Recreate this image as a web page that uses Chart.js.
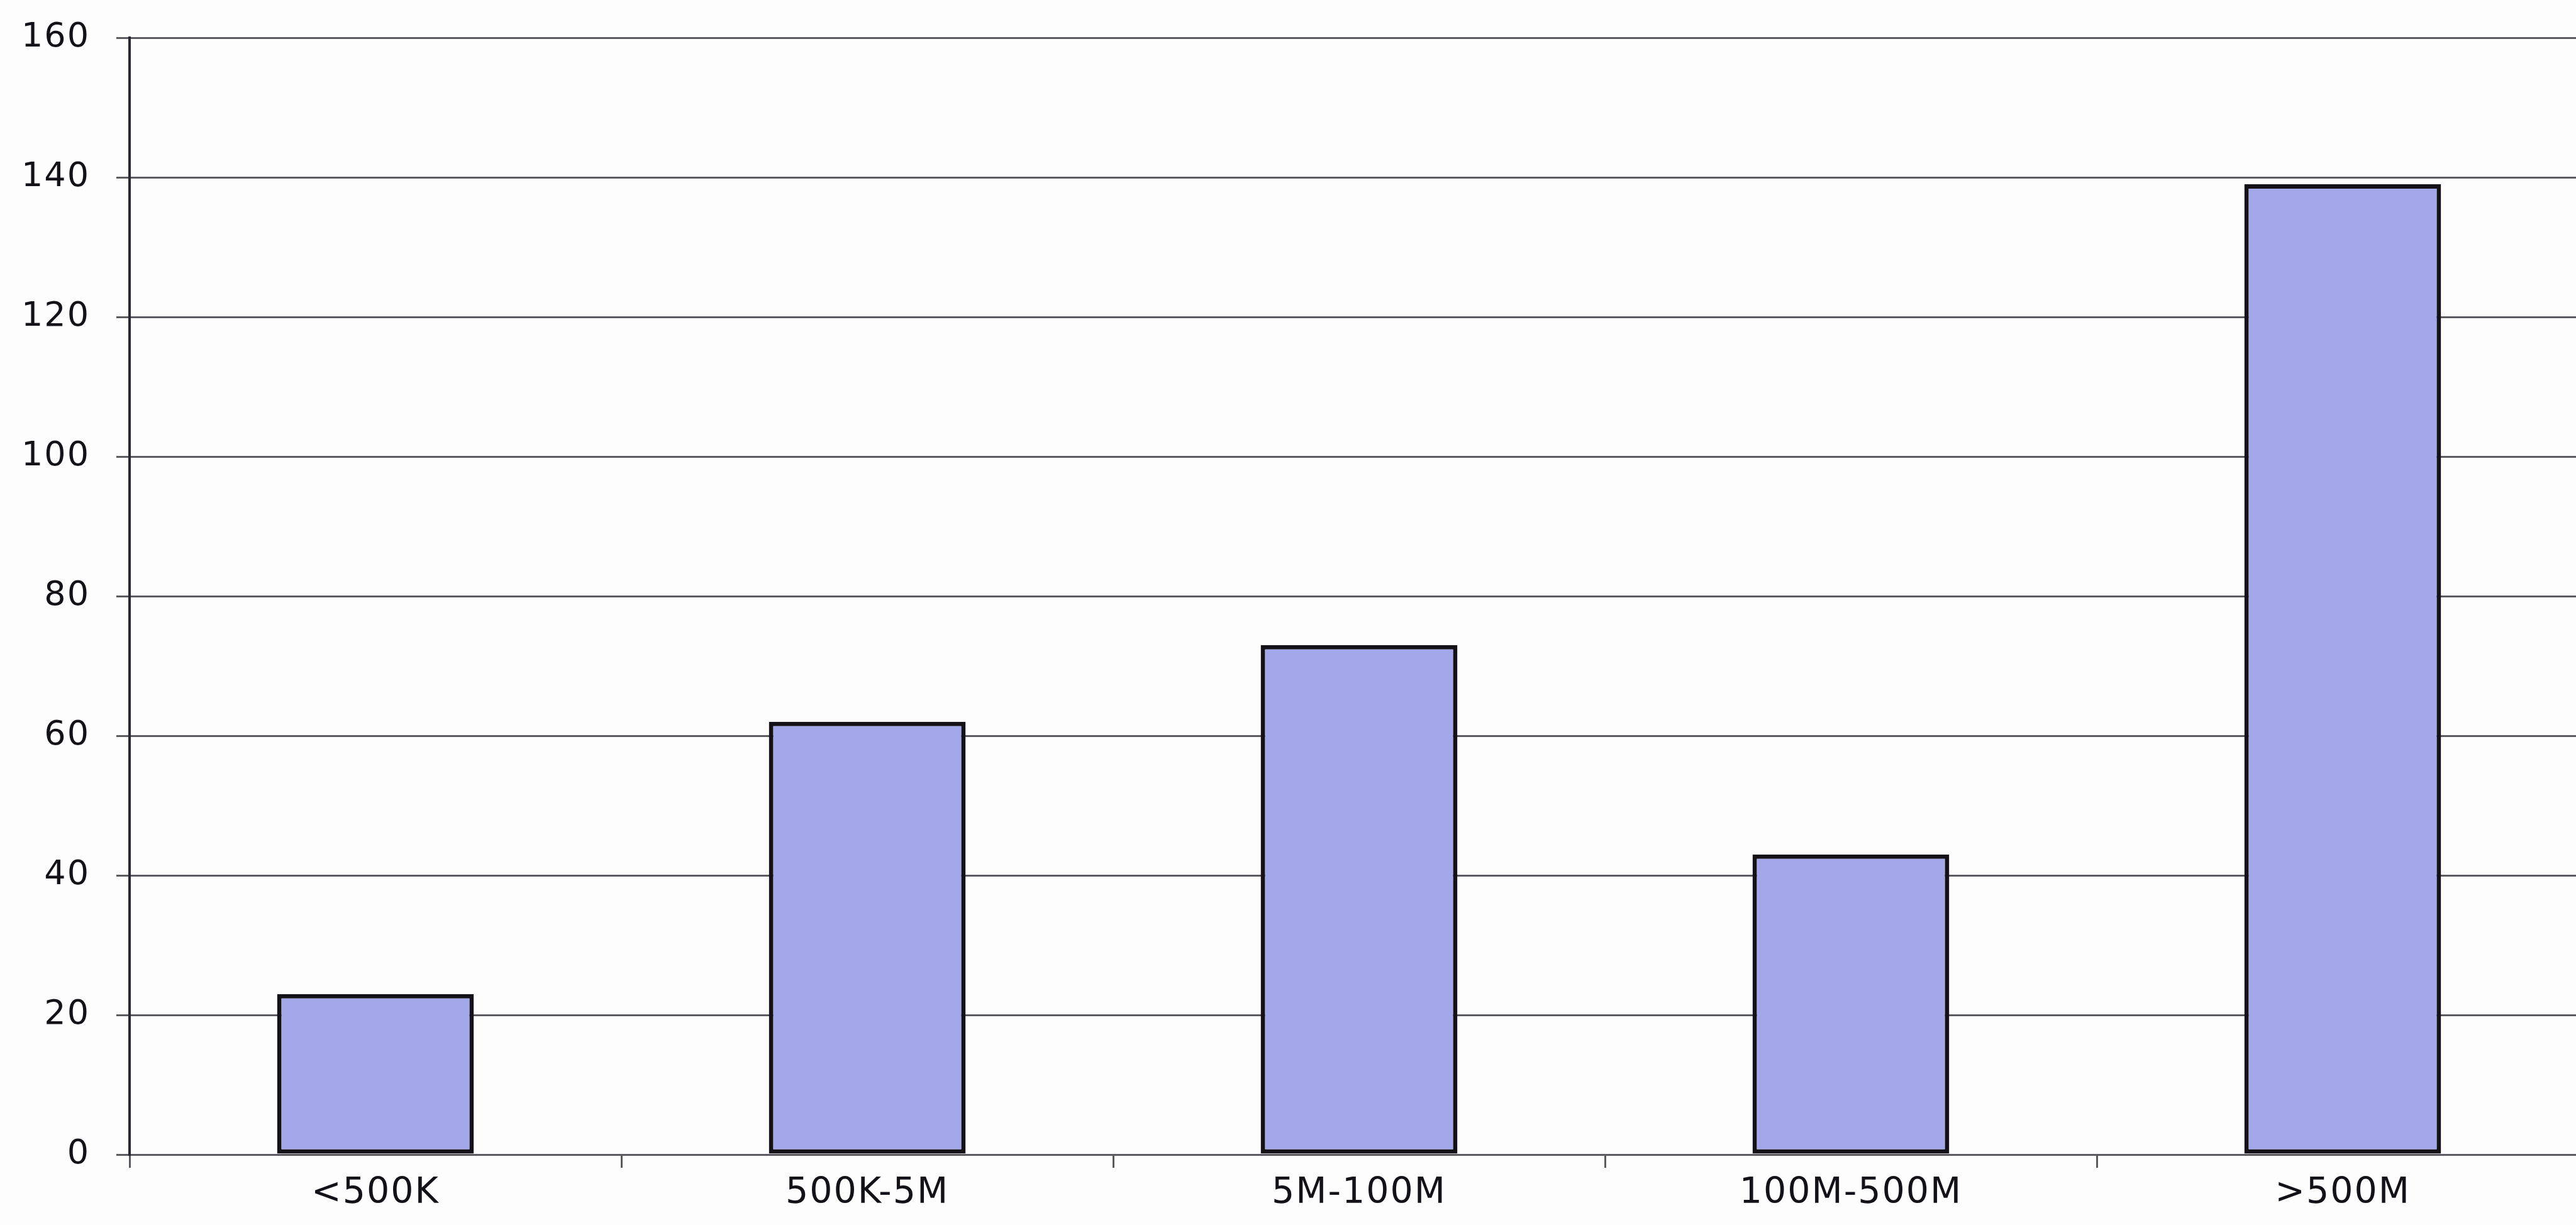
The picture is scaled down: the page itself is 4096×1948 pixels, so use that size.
<!DOCTYPE html>
<html>
<head>
<meta charset="utf-8">
<script src="https://cdn.jsdelivr.net/npm/chart.js@4/dist/chart.umd.min.js"></script>
<style>
  html, body { margin: 0; padding: 0; background: #fdfdfe; overflow: hidden; }
  #wrap { width: 4116px; height: 1948px; }
</style>
</head>
<body>
<div id="wrap"><canvas id="sizeChart"></canvas></div>
<script>
// companies by size band
const categories = ['<500K', '500K-5M', '5M-100M', '100M-500M', '>500M'];
const counts = [23, 62, 73, 43, 139];
const yTicks = [0, 20, 40, 60, 80, 100, 120, 140, 160];

const FONT = "'DejaVu Sans', Verdana, sans-serif";
const GRID = '#5c5a60';

// a touch of extra tracking on the axis text
const spacing = {
    id: 'spacing',
    beforeDraw: chart => { chart.ctx.letterSpacing = '2px'; }
};

const ctx = document.getElementById('sizeChart').getContext('2d');

new Chart(ctx, {
    type: 'bar',
    data: {
        labels: categories,
        datasets: [{
            data: counts,
            backgroundColor: '#a3a8ea',
            borderColor: '#141218',
            borderWidth: 7,
            borderSkipped: false,
            barPercentage: 0.4,
            categoryPercentage: 1.0
        }]
    },
    plugins: [spacing],
    options: {
        responsive: true,
        maintainAspectRatio: false,
        animation: false,
        layout: { padding: { top: 60, right: 0, left: 0, bottom: 0 } },
        plugins: {
            legend: { display: false },
            tooltip: { enabled: false }
        },
        scales: {
            x: {
                grid: {
                    offset: true,
                    drawOnChartArea: false,
                    drawTicks: true,
                    tickLength: 21,
                    color: GRID,
                    lineWidth: 3
                },
                border: { display: true, color: GRID, width: 3 },
                ticks: {
                    color: '#141218',
                    font: { family: FONT, size: 57 },
                    padding: 7,
                    maxRotation: 0
                },
                afterFit: axis => { axis.height = 112; }
            },
            y: {
                min: 0,
                max: 160,
                afterBuildTicks: axis => {
                    axis.ticks = yTicks.map(v => ({ value: v }));
                },
                grid: {
                    color: GRID,
                    lineWidth: 3,
                    drawTicks: true,
                    tickLength: 21
                },
                border: { display: true, color: '#2a2830', width: 4 },
                ticks: {
                    color: '#141218',
                    font: { family: FONT, size: 54 },
                    padding: 42
                },
                afterFit: axis => {
                    axis.width = 206;
                    axis.paddingTop = 0;
                    axis.paddingBottom = 0;
                }
            }
        }
    }
});
</script>
</body>
</html>
